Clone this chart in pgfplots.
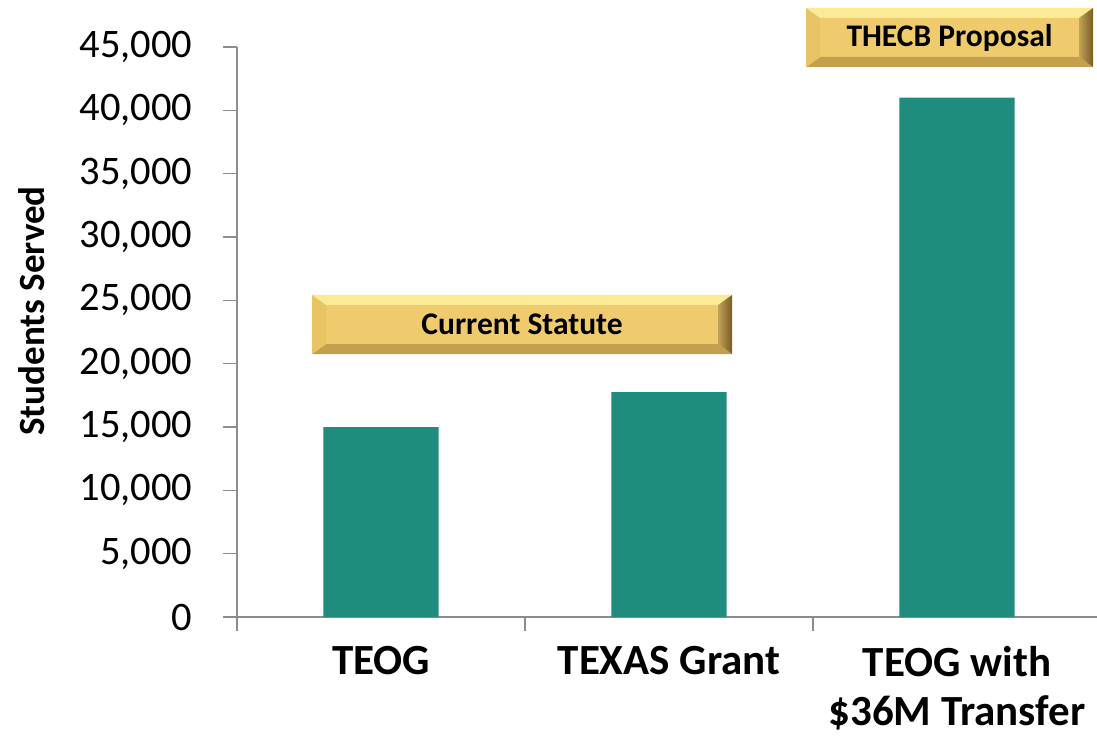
\documentclass[border=0pt]{standalone}
\usepackage{fontspec}
\setmainfont{Carlito}
\usepackage{pgfplots}
\pgfplotsset{compat=1.18}
\definecolor{barcol}{RGB}{31,141,125}
\definecolor{axisgray}{RGB}{140,140,140}
\definecolor{gmid}{RGB}{239,203,110}
\definecolor{gtop}{RGB}{251,234,150}
\definecolor{gbot}{RGB}{196,160,78}
\definecolor{gleft}{RGB}{232,196,100}
\definecolor{gright}{RGB}{120,92,35}
\newcommand\bevel[3]{%
  \coordinate (A) at (#1);
  \coordinate (C) at (#2);
  \coordinate (B) at (C|-A);
  \coordinate (D) at (A|-C);
  \coordinate (a) at ([shift={(14pt,10pt)}]A);
  \coordinate (c) at ([shift={(-14pt,-10pt)}]C);
  \coordinate (b) at (c|-a);
  \coordinate (d) at (a|-c);
  \fill[gmid] (a) rectangle (c);
  \fill[gtop] (D)--(C)--(c)--(d)--cycle;
  \fill[gbot] (A)--(B)--(b)--(a)--cycle;
  \fill[gleft] (A)--(a)--(d)--(D)--cycle;
  \shade[left color=gmid!80!black, right color=gright] (B)--(C)--(c)--(b)--cycle;
  \path (A) -- (C) node[midway, font=\fontsize{31.5}{36}\selectfont\bfseries, text=black] {#3};
}
\begin{document}
\begin{tikzpicture}
\useasboundingbox (0,0) rectangle (1097pt,742pt);
\begin{axis}[
  at={(237pt,125pt)}, anchor=south west,
  scale only axis, width=860pt, height=570pt,
  xmin=-0.5, xmax=2.486, ymin=0, ymax=45000,
  axis x line*=bottom, axis y line*=left,
  axis line style={axisgray, line width=1.5pt, -},
  tick style={axisgray, line width=1.5pt},
  tick align=outside, major tick length=14pt,
  ytick={0,5000,...,45000},
  scaled y ticks=false,
  yticklabel={\pgfmathprintnumber[fixed,precision=0,1000 sep={,},assume math mode=true]{\tick}},
  yticklabel style={font=\fontsize{40.5}{44}\selectfont, text=black, xshift=-27pt},
  xtick={-0.5,0.5,1.5,2.5}, xticklabels={},
  extra x ticks={0,1,2},
  extra x tick labels={TEOG, TEXAS Grant, {TEOG with\\\$36M Transfer}},
  extra x tick style={tick style={draw=none}, ticklabel style={align=center, font=\fontsize{43}{49}\selectfont\bfseries, text=black, yshift=-12pt}},
  ylabel={Students Served},
  ylabel style={font=\fontsize{37}{42}\selectfont\bfseries, at={(axis description cs:-0.2384,0.537)}, anchor=center},
  clip=false,
]
\addplot[ybar, fill=barcol, draw=none, bar width=0.4] coordinates {(0,15000) (1,17750) (2,41000)};
\coordinate (cs1) at (axis cs:-0.2396,20763);
\coordinate (cs2) at (axis cs:1.2188,25421);
\coordinate (tp1) at (axis cs:1.4757,43421);
\coordinate (tp2) at (axis cs:2.4722,48079);
\end{axis}
\bevel{cs1}{cs2}{Current Statute}
\bevel{tp1}{tp2}{THECB Proposal}
\end{tikzpicture}
\end{document}
